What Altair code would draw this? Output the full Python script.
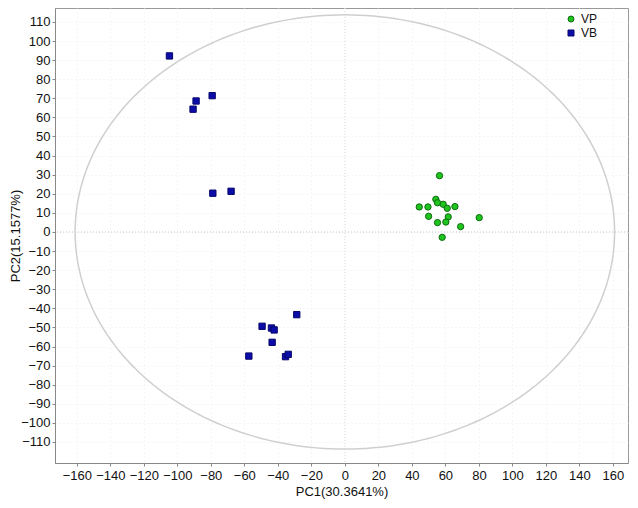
import altair as alt
import numpy as np
import pandas as pd

vp_x = [56.5, 54.3, 55.3, 58.7, 61.1, 65.7, 44.4, 49.6, 50.0, 61.7, 55.3, 60.3, 80.2, 69.1, 58.1]
vp_y = [29.5, 17.1, 15.3, 14.5, 12.4, 13.3, 13.1, 13.1, 8.2, 7.9, 4.9, 5.2, 7.5, 2.8, -2.8]
vb_x = [-104.7, -79.2, -88.8, -90.6, -78.8, -67.9, -28.7, -49.4, -43.8, -42.2, -43.4, -57.3, -35.4, -33.8]
vb_y = [92.2, 71.4, 68.6, 64.3, 20.3, 21.3, -43.3, -49.4, -50.3, -51.3, -57.8, -65.0, -65.3, -64.1]
groups = ["VP", "VB"]
x_ticks = list(range(-160, 161, 20))
y_ticks = list(range(-110, 111, 10))
ellipse_rx = 161.0
ellipse_ry = 113.7

pts = pd.DataFrame({
    "x": vp_x + vb_x,
    "y": vp_y + vb_y,
    "g": ["VP"] * len(vp_x) + ["VB"] * len(vb_x),
})

t = np.linspace(0, 2 * np.pi, 241)
ell = pd.DataFrame({"x": ellipse_rx * np.cos(t), "y": ellipse_ry * np.sin(t), "o": np.arange(len(t))})

xs = alt.Scale(domain=[-173, 169], nice=False, zero=False)
ys = alt.Scale(domain=[-121, 117.3], nice=False, zero=False)

font = "Liberation Sans"
xaxis = alt.Axis(values=x_ticks, title="PC1(30.3641%)", titlePadding=3, labelPadding=3)
yaxis = alt.Axis(values=y_ticks, title="PC2(15.1577%)", titleX=-40, titleBaseline="middle", labelPadding=2)

base_axes = alt.Chart(pd.DataFrame({"x": [0], "y": [0]})).mark_point(opacity=0).encode(
    x=alt.X("x:Q", scale=xs, axis=xaxis), y=alt.Y("y:Q", scale=ys, axis=yaxis))

zero_h = alt.Chart(pd.DataFrame({"y": [0]})).mark_rule(color="#c8c8c8", strokeDash=[1, 2], strokeWidth=1).encode(
    y=alt.Y("y:Q", scale=ys, axis=yaxis))
zero_v = alt.Chart(pd.DataFrame({"x": [0]})).mark_rule(color="#dddddd", strokeDash=[1, 2], strokeWidth=1).encode(
    x=alt.X("x:Q", scale=xs, axis=xaxis))

ellipse = alt.Chart(ell).mark_line(color="#cfcfcf", strokeWidth=1.5).encode(
    x=alt.X("x:Q", scale=xs, axis=xaxis), y=alt.Y("y:Q", scale=ys, axis=yaxis), order="o:Q")

leg = alt.Legend(title=None, orient="none", legendX=510, legendY=5,
                 labelFont=font, labelFontSize=12, labelColor="#111",
                 symbolSize=36, rowPadding=2, symbolStrokeWidth=1)

points = alt.Chart(pts).mark_point(filled=True, size=40, strokeWidth=1, opacity=1).encode(
    x=alt.X("x:Q", scale=xs, axis=xaxis),
    y=alt.Y("y:Q", scale=ys, axis=yaxis),
    shape=alt.Shape("g:N", scale=alt.Scale(domain=groups, range=["circle", "square"]), legend=leg),
    fill=alt.Fill("g:N", scale=alt.Scale(domain=groups, range=["#1fc41f", "#0c0ca8"]), legend=leg),
    stroke=alt.Stroke("g:N", scale=alt.Scale(domain=groups, range=["#0d6a0d", "#06066a"]), legend=leg),
)

chart = alt.layer(base_axes, zero_h, zero_v, ellipse, points).properties(
    width=573, height=455,
    autosize=alt.AutoSizeParams(type="none"),
    padding={"left": 47, "top": 0, "right": 2, "bottom": 42},
).configure_view(stroke="#999999", strokeWidth=1).configure_axis(
    grid=True, gridColor="#ececec", gridDash=[1, 3], tickSize=3,
    labelFontSize=13, titleFontSize=13, titleFontWeight="normal",
    labelColor="#111", titleColor="#111", domainColor="#888", tickColor="#888",
    labelFont=font, titleFont=font, labelOverlap=False, labelFlush=False,
)

chart.save("out.html", embed_options={"renderer": "svg", "actions": False})
